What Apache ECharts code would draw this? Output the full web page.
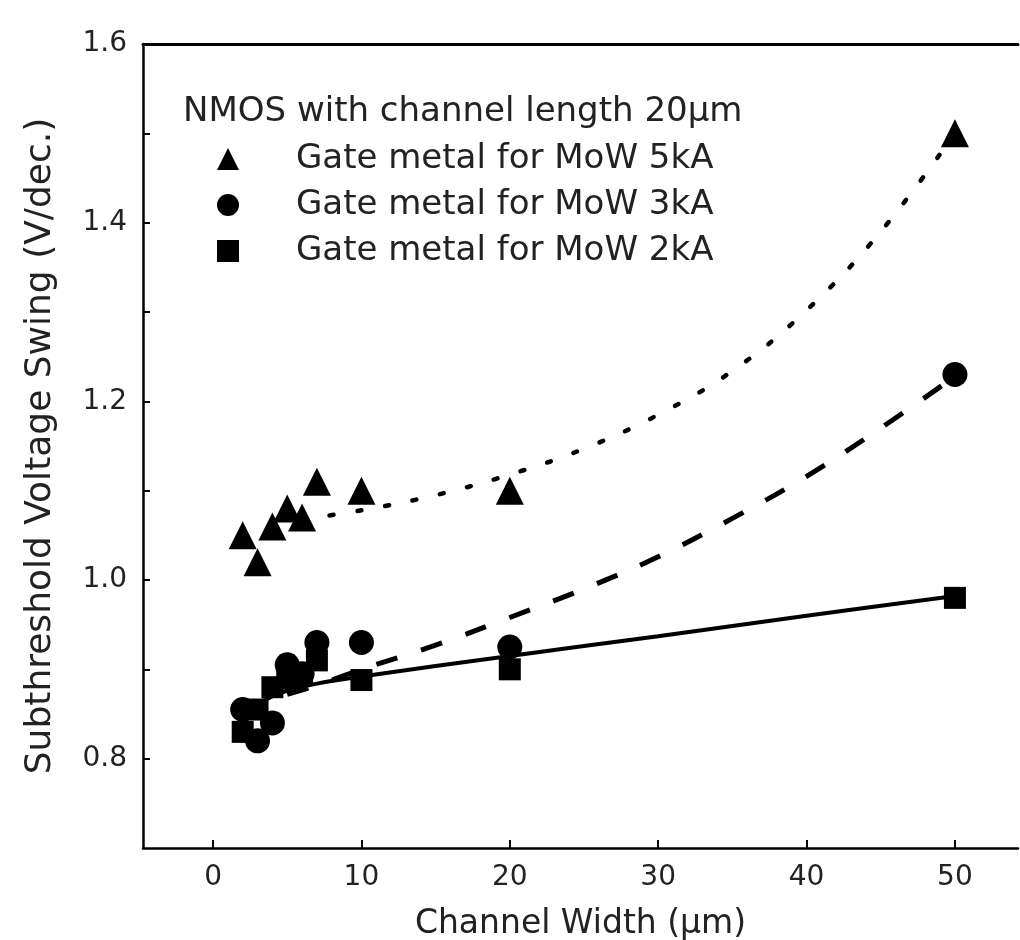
<!DOCTYPE html>
<html><head><meta charset="utf-8">
<script src="https://cdn.jsdelivr.net/npm/echarts@6/dist/echarts.min.js"></script>
<style>html,body{margin:0;padding:0;background:#fff}#c{width:1020px;height:940px}</style>
</head><body><div id="c"></div>
<script>
// ---- data ----
const widths   = [2, 3, 4, 5, 6, 7, 10, 20, 50];
const swing5kA = [1.05, 1.02, 1.06, 1.08, 1.07, 1.11, 1.10, 1.10, 1.50];
const swing3kA = [0.855, 0.82, 0.84, 0.905, 0.895, 0.93, 0.93, 0.925, 1.23];
const swing2kA = [0.83, 0.855, 0.88, 0.89, 0.895, 0.91, 0.888, 0.90, 0.98];

const fit5kA_x = [6, 10, 15, 20, 25, 30, 35, 40, 45, 50];
const fit5kA_y = [1.068, 1.078, 1.095, 1.118, 1.147, 1.185, 1.234, 1.302, 1.39, 1.5];
const fit3kA_x = [5, 7, 10, 15, 20, 25, 30, 35, 40, 45, 50];
const fit3kA_y = [0.872, 0.882, 0.9, 0.927, 0.958, 0.99, 1.026, 1.069, 1.116, 1.17, 1.228];
const fit2kA_x = [2, 3, 4, 5, 7, 10, 20, 30, 40, 50];
const fit2kA_y = [0.845, 0.86, 0.87, 0.876, 0.884, 0.892, 0.915, 0.937, 0.96, 0.982];

const xTickValues = [0, 10, 20, 30, 40, 50];
const yLabelValues = [0.8, 1.0, 1.2, 1.4, 1.6];
const yTickValues = [0.8, 0.9, 1.0, 1.1, 1.2, 1.3, 1.4, 1.5, 1.6];

const legendTitle = 'NMOS with channel length 20\u03bcm';
const seriesNames = ['Gate metal for MoW 5kA', 'Gate metal for MoW 3kA', 'Gate metal for MoW 2kA'];
const xName = 'Channel Width (\u03bcm)';
const yName = 'Subthreshold Voltage Swing (V/dec.)';

// ---- build ----
const zip = (xs, ys) => xs.map((x, i) => [x, ys[i]]);
const FONT = 'DejaVu Sans';
const INK = '#222';

const chart = echarts.init(document.getElementById('c'), null, {renderer: 'canvas'});
chart.setOption({
  animation: false,
  backgroundColor: '#fff',
  title: {
    text: legendTitle, left: 183, top: 95, padding: 0,
    textStyle: {fontFamily: FONT, fontSize: 34, fontWeight: 'normal', color: INK}
  },
  legend: {
    orient: 'vertical', left: 217, top: 141, padding: 0,
    itemWidth: 22, itemHeight: 22, itemGap: 10,
    data: [
      {name: seriesNames[0], icon: 'triangle'},
      {name: seriesNames[1], icon: 'circle'},
      {name: seriesNames[2], icon: 'rect'}
    ],
    textStyle: {fontFamily: FONT, fontSize: 34, color: INK, lineHeight: 36, padding: [0, 0, 0, 52]}
  },
  grid: {left: 143, right: 2, top: 44, bottom: 92, containLabel: false, outerBoundsMode: 'none'},
  xAxis: [{
    type: 'value', min: -4.72, max: 54.25, position: 'bottom',
    name: xName, nameLocation: 'middle', nameGap: 60,
    nameTextStyle: {fontFamily: FONT, fontSize: 33, color: INK},
    axisLine: {show: true, onZero: false, lineStyle: {color: '#000', width: 2.5}},
    axisTick: {show: true, inside: true, length: 8, customValues: xTickValues, lineStyle: {color: '#000', width: 2}},
    axisLabel: {customValues: xTickValues, margin: 16, fontFamily: FONT, fontSize: 28, color: INK},
    splitLine: {show: false}
  }, {
    type: 'value', min: -4.72, max: 54.25, position: 'top',
    axisLine: {show: true, onZero: false, lineStyle: {color: '#000', width: 3}},
    axisTick: {show: false}, axisLabel: {show: false}, splitLine: {show: false}
  }],
  yAxis: {
    type: 'value', min: 0.7, max: 1.6,
    name: yName, nameLocation: 'middle', nameGap: 84, nameRotate: 90,
    nameTextStyle: {fontFamily: FONT, fontSize: 36, color: INK, padding: [0, 0, 0, 0]},
    axisLine: {show: true, onZero: false, lineStyle: {color: '#000', width: 2.5}},
    axisTick: {show: true, inside: true, length: 7, customValues: yTickValues, lineStyle: {color: '#000', width: 2}},
    axisLabel: {customValues: yLabelValues, margin: 16, fontFamily: FONT, fontSize: 28, color: INK,
      formatter: v => v.toFixed(1)},
    splitLine: {show: false}
  },
  series: [
    {type: 'line', name: 'fit5', data: zip(fit5kA_x, fit5kA_y), smooth: 0.4, showSymbol: false, z: 1,
      lineStyle: {color: '#000', width: 4.5, type: [4, 24], cap: 'round'}, silent: true},
    {type: 'line', name: 'fit3', data: zip(fit3kA_x, fit3kA_y), smooth: 0.4, showSymbol: false, z: 1,
      lineStyle: {color: '#000', width: 5, type: [22, 25]}, silent: true},
    {type: 'line', name: 'fit2', data: zip(fit2kA_x, fit2kA_y), smooth: 0.4, showSymbol: false, z: 1,
      lineStyle: {color: '#000', width: 4}, silent: true},
    {type: 'scatter', name: seriesNames[0], data: zip(widths, swing5kA), symbol: 'triangle', symbolSize: 28, z: 3,
      itemStyle: {color: '#000', opacity: 1}},
    {type: 'scatter', name: seriesNames[1], data: zip(widths, swing3kA), symbol: 'circle', symbolSize: 25, z: 3,
      itemStyle: {color: '#000', opacity: 1}},
    {type: 'scatter', name: seriesNames[2], data: zip(widths, swing2kA), symbol: 'rect', symbolSize: 22, z: 3,
      itemStyle: {color: '#000', opacity: 1}}
  ]
});
</script>
</body></html>
